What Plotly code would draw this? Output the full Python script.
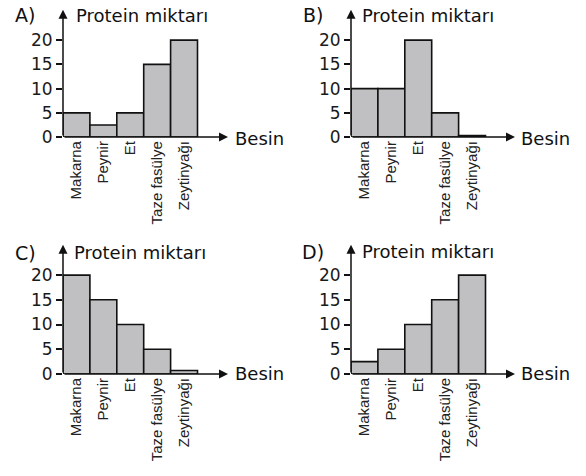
import plotly.graph_objects as go

W, H = 586, 476

categories = ["Makarna", "Peynir", "Et", "Taze fasülye", "Zeytinyağı"]
a_values = [5, 2.5, 5, 15, 20]
b_values = [10, 10, 20, 5, 0.3]
c_values = [20, 15, 10, 5, 0.7]
d_values = [2.5, 5, 10, 15, 20]
y_ticks = [0, 5, 10, 15, 20]
panel_labels = ["A)", "B)", "C)", "D)"]
y_title = "Protein miktarı"
x_title = "Besin"

# panel geometry in reference pixels
panels = [
    dict(ox=63, oy=140, tipx=228, topy=10, ppu=4.95, vals=a_values, lab=(13, 15), yt=(74, 16), xt=(233, 141)),
    dict(ox=351, oy=140, tipx=515, topy=10, ppu=4.95, vals=b_values, lab=(301, 15), yt=(360, 16), xt=(519, 141)),
    dict(ox=63, oy=382, tipx=228, topy=250, ppu=5.05, vals=c_values, lab=(13, 258), yt=(72, 258), xt=(233, 382)),
    dict(ox=351, oy=382, tipx=515, topy=250, ppu=5.05, vals=d_values, lab=(300, 257), yt=(360, 257), xt=(519, 382)),
]
barw = 26.9


def px(x):
    return x / W


def py(y):
    return 1 - y / H


fig = go.Figure()
annotations = []
layout = {}
for i, p in enumerate(panels):
    n = "" if i == 0 else str(i + 1)
    xr = [-0.5, (p["tipx"] - p["ox"]) / barw - 0.5]
    yr = [0, (p["oy"] - p["topy"]) / p["ppu"]]
    fig.add_trace(go.Bar(
        x=categories, y=p["vals"], width=1,
        marker=dict(color="#c0c0c3", line=dict(color="#111111", width=1.6)),
        xaxis="x" + n, yaxis="y" + n, showlegend=False, hoverinfo="skip",
    ))
    layout["xaxis" + n] = dict(
        domain=[px(p["ox"]), px(p["tipx"])], range=xr, type="category",
        anchor="y" + n, showline=False, showgrid=False, zeroline=False,
        ticks="", tickangle=-90,
        tickfont=dict(family="Liberation Sans", size=15, color="#222222"),
        fixedrange=True,
    )
    layout["yaxis" + n] = dict(
        domain=[py(p["oy"]), py(p["topy"])], range=yr,
        anchor="x" + n, showline=False, showgrid=False, zeroline=False,
        tickvals=y_ticks, ticks="outside", ticklen=6, tickwidth=1.5, tickcolor="#111111",
        tickfont=dict(family="DejaVu Sans", size=17, color="#1a1a1a"),
        fixedrange=True,
    )
    # x axis arrow
    annotations.append(dict(
        xref="x" + n, yref="y" + n, x=xr[1], y=0, axref="x" + n, ayref="y" + n,
        ax=-0.5, ay=0, showarrow=True, arrowhead=2, arrowsize=1.2, arrowwidth=1.5,
        arrowcolor="#111111", text="",
    ))
    # y axis arrow
    annotations.append(dict(
        xref="x" + n, yref="y" + n, x=-0.5, y=yr[1], axref="x" + n, ayref="y" + n,
        ax=-0.5, ay=0, showarrow=True, arrowhead=2, arrowsize=1.2, arrowwidth=1.5,
        arrowcolor="#111111", text="",
    ))
    for txt, (tx, ty), size in [(panel_labels[i], p["lab"], 19), (y_title, p["yt"], 18), (x_title, p["xt"], 18)]:
        annotations.append(dict(
            xref="paper", yref="paper", x=px(tx), y=py(ty),
            xanchor="left", yanchor="middle", showarrow=False, text=txt,
            font=dict(family="DejaVu Sans", size=size, color="#111111"),
        ))

fig.update_layout(
    width=W, height=H, autosize=False, margin=dict(l=0, r=0, t=0, b=0),
    paper_bgcolor="white", plot_bgcolor="white",
    annotations=annotations, **layout,
)
fig.write_html(
    "out.html",
    config={"displayModeBar": False, "responsive": False},
    post_script="document.body.style.margin='0';document.body.style.overflow='hidden';",
)
